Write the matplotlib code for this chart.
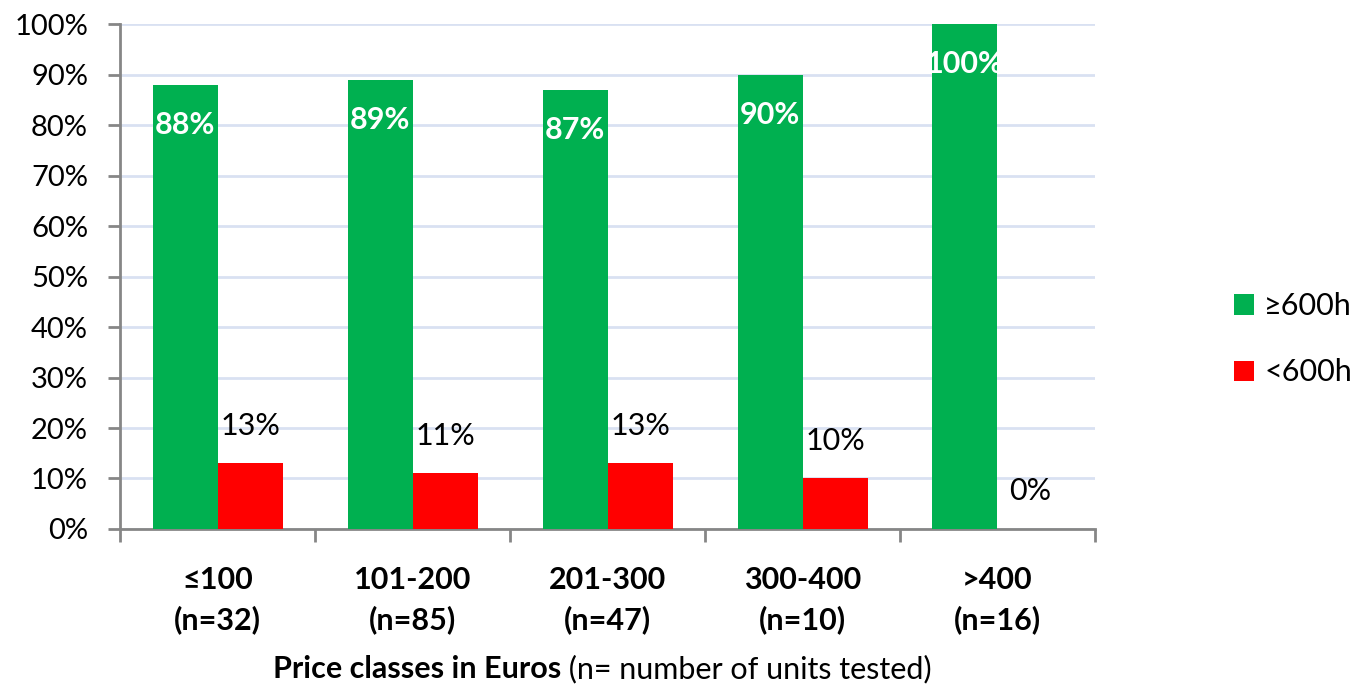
import matplotlib
matplotlib.use("Agg")
import matplotlib.pyplot as plt
import numpy as np

plt.rcParams['font.family'] = ['Lato', 'DejaVu Sans']

categories = ["≤100\n(n=32)", "101-200\n(n=85)", "201-300\n(n=47)", "300-400\n(n=10)", ">400\n(n=16)"]
long_life = [88, 89, 87, 90, 100]   # ≥600h, percent
short_life = [13, 11, 13, 10, 0]    # <600h, percent
series_names = ["≥600h", "<600h"]
yticks = list(range(0, 101, 10))

GREEN = "#00B050"
RED = "#FF0000"
AXIS = "#868686"
GRID = "#D9E1F2"
FS = 22

fig = plt.figure(figsize=(13.52, 6.87), dpi=100)
ax = fig.add_axes([0.0888, 0.230, 0.7211, 0.735])

x = np.arange(len(categories))
w = 1 / 3
b1 = ax.bar(x - w / 2, long_life, width=w, color=GREEN, label=series_names[0], zorder=3)
b2 = ax.bar(x + w / 2, short_life, width=w, color=RED, label=series_names[1], zorder=3)

ax.set_xlim(-0.5, len(categories) - 0.5)
ax.set_ylim(0, 100)
ax.set_yticks(yticks)
ax.set_yticklabels([f"{t}%" for t in yticks], fontsize=21)
ax.yaxis.grid(True, color=GRID, linewidth=2, zorder=0)
ax.set_axisbelow(True)

# category ticks sit between groups; labels at group centres
ax.set_xticks(np.arange(len(categories) + 1) - 0.5)
ax.set_xticklabels([])
ax.set_xticks(x, minor=True)
ax.set_xticklabels(categories, minor=True, fontsize=FS, fontweight='bold', linespacing=1.45)
ax.tick_params(axis='x', which='minor', length=0, pad=27)
ax.tick_params(axis='x', which='major', length=9, width=2, color=AXIS, direction='out')
ax.tick_params(axis='y', length=9, width=2, color=AXIS, direction='out', pad=14)

for side in ['top', 'right']:
    ax.spines[side].set_visible(False)
for side in ['left', 'bottom']:
    ax.spines[side].set_color(AXIS)
    ax.spines[side].set_linewidth(2)

for rect, v in zip(b1, long_life):
    ax.annotate(f"{v}%", (rect.get_x() + rect.get_width() / 2, v), xytext=(0, -29),
                textcoords='offset points', ha='center', va='center',
                color='white', fontsize=FS, fontweight='bold', zorder=4)
for rect, v in zip(b2, short_life):
    ax.annotate(f"{v}%", (rect.get_x() + rect.get_width() / 2, v), xytext=(0, 27),
                textcoords='offset points', ha='center', va='center',
                color='black', fontsize=FS, zorder=4)

t1 = fig.text(0.202, 0.013, "Price classes in Euros", fontsize=FS, fontweight='bold',
              ha='left', va='baseline')
ax.annotate(" (n= number of units tested)", xy=(1, 0), xycoords=t1, xytext=(0, 0),
            textcoords='offset points', fontsize=FS, ha='left', va='bottom')

leg = fig.legend(handles=[b1, b2], labels=series_names, loc='center left',
                 bbox_to_anchor=(0.908, 0.506), frameon=False, fontsize=FS,
                 handlelength=0.65, handleheight=0.65, handletextpad=0.35, labelspacing=1.25,
                 borderpad=0.2, borderaxespad=0)

fig.savefig("out.png", dpi=100)
